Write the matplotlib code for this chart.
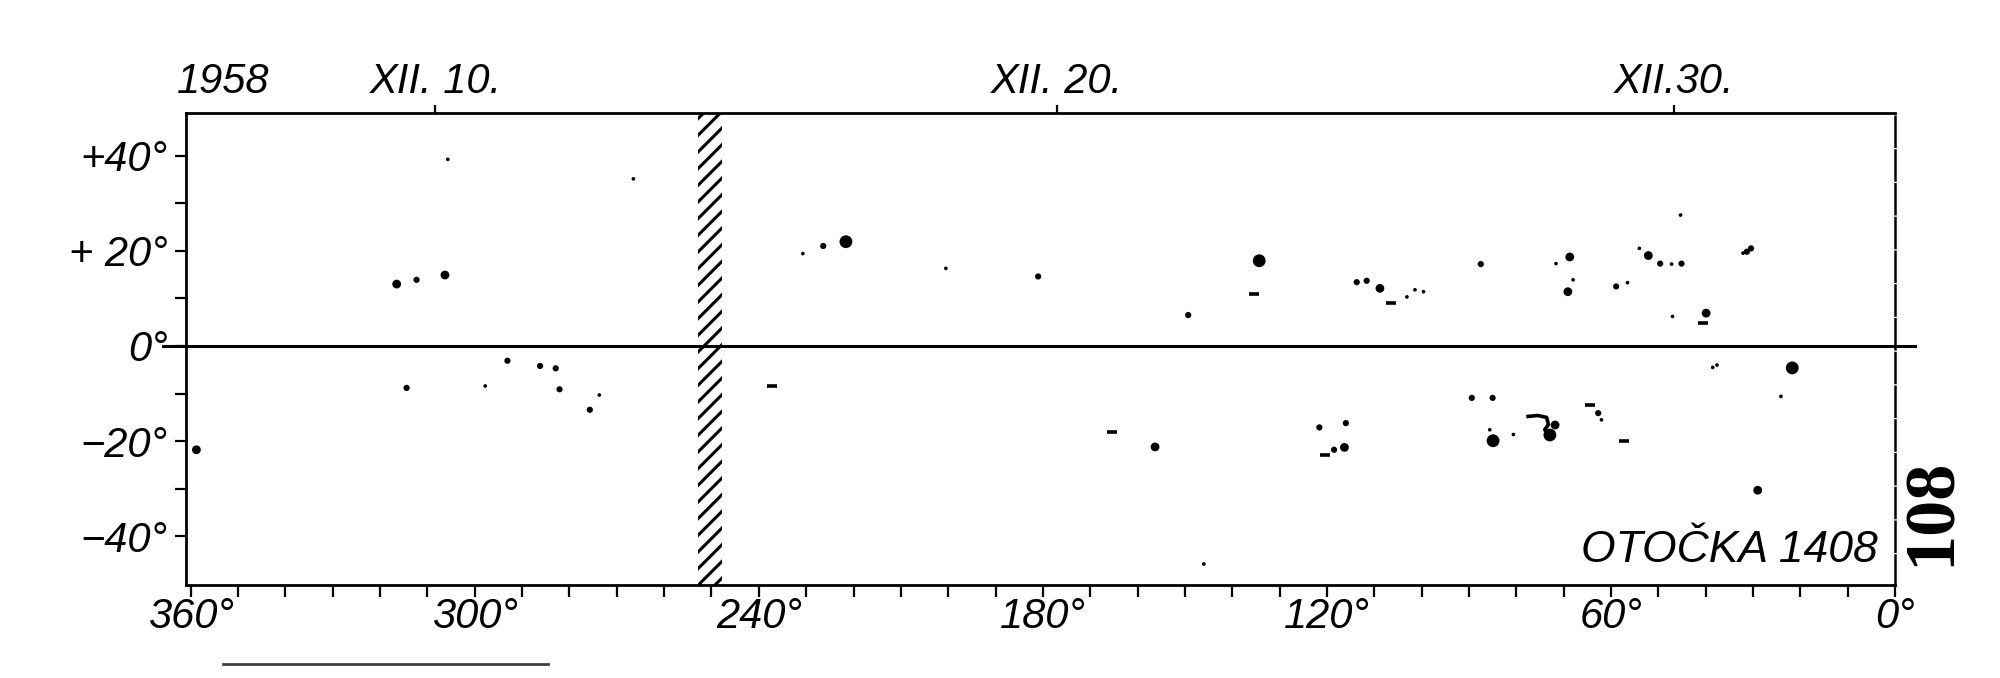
import matplotlib.pyplot as plt
from matplotlib.lines import Line2D

plt.rcParams['hatch.linewidth'] = 2.2

lab_font = ['Liberation Sans Narrow', 'Liberation Sans', 'DejaVu Sans']

# Data: Carrington longitude (deg), latitude (deg), size class 1..4
spot_lon = [305.7, 316.5, 312.3, 306.3, 314.4, 358.8,
            266.5, 293.1, 297.8, 286.2, 282.9, 282.1, 273.7, 275.7,
            230.7, 226.4, 221.6, 200.5, 181.0,
            149.3, 134.3, 113.7, 111.6, 108.8, 103.1, 101.4, 99.6,
            156.3, 146.0, 121.6, 116.0, 118.5, 116.3,
            87.5, 71.6, 68.7, 68.0, 69.1, 58.9, 56.5, 54.0, 52.1, 49.6,
            47.2, 45.1, 45.3, 47.0, 39.9, 32.1, 31.3, 30.4, 38.5, 37.6,
            89.4, 85.0, 85.6, 84.9, 80.6, 71.8, 72.9, 62.7, 62.0, 29.0,
            21.7, 24.1]
spot_lat = [39.2, 13.0, 13.9, 14.9, -8.8, -21.8,
            35.1, -3.1, -8.4, -4.2, -4.7, -9.1, -10.3, -13.4,
            19.4, 21.0, 21.9, 16.3, 14.6,
            6.5, 17.9, 13.4, 13.7, 12.1, 10.3, 11.8, 11.4,
            -21.2, -45.8, -17.1, -16.2, -21.8, -21.3,
            17.2, 17.3, 18.7, 13.9, 11.4, 12.5, 13.3, 20.5, 19.0, 17.3,
            17.2, 17.3, 27.5, 6.2, 6.9, 19.5, 19.8, 20.5, -4.5, -4.0,
            -10.9, -10.9, -17.6, -19.9, -18.6, -16.6, -18.7, -14.1, -15.5, -30.3,
            -4.6, -10.6]
spot_size = [1, 3, 2, 3, 2, 3,
             1, 2, 1, 2, 2, 2, 1, 2,
             1, 2, 4, 1, 2,
             2, 4, 2, 2, 3, 1, 1, 1,
             3, 1, 2, 2, 2, 3,
             2, 1, 3, 1, 3, 2, 1, 1, 3, 2,
             1, 2, 1, 1, 3, 1, 2, 2, 1, 1,
             2, 2, 1, 4, 1, 3, 4, 2, 1, 3,
             4, 1]

# elongated (dash-like) features
dash_lon = [237.3, 165.5, 135.5, 106.5, 120.4, 40.5, 64.4, 57.2]
dash_lat = [-8.5, -18.0, 10.9, 9.1, -22.9, 4.9, -12.4, -19.9]

# irregular group near 75 deg
trail_lon = [77.5, 75.5, 73.6, 73.2, 74.0, 73.0]
trail_lat = [-14.8, -14.6, -15.0, -16.5, -17.6, -18.7]

# gap in observations
gap_lon = [247.8, 252.9]

lon_ticks = [360, 300, 240, 180, 120, 60, 0]
lon_labels = ['360°', '300°', '240°', '180°', '120°', '60°', '0°']
lat_ticks = [40, 20, 0, -20, -40]
lat_labels = ['+40°', '+ 20°', '0°', '−20°', '−40°']

date_lon = [308.3, 177.1, 46.7]
date_labels = ['XII. 10.', 'XII. 20.', 'XII.30.']

size_map = {1: 7, 2: 20, 3: 40, 4: 85}

fig = plt.figure(figsize=(20, 6.78), dpi=100)
fig.patch.set_facecolor('white')
ax = fig.add_axes([0.093, 0.1372, 0.8545, 0.6966])

ax.set_xlim(361, 0)
ax.set_ylim(-50.2, 49)

ax.axvspan(gap_lon[0], gap_lon[1], facecolor='none', edgecolor='black', hatch='//', linewidth=0)
ax.axhline(0, xmin=-0.0135, xmax=1.0117, color='black', lw=2.2, clip_on=False)

ax.scatter(spot_lon, spot_lat, s=[size_map[k] for k in spot_size], color='black', linewidths=0)
ax.plot(dash_lon, dash_lat, ls='none', marker='_', ms=7, mew=2.6, color='black')
ax.plot(trail_lon, trail_lat, color='black', lw=2.6)

for side in ['left', 'top', 'bottom']:
    ax.spines[side].set_linewidth(2)
ax.spines['right'].set_linewidth(1.8)
ax.spines['right'].set_linestyle((0, (12, 1.5)))

ax.set_xticks(lon_ticks)
ax.set_xticklabels(lon_labels, family=lab_font, style='italic', fontsize=30)
ax.set_xticks(range(350, 0, -10), minor=True)
ax.set_yticks(lat_ticks)
ax.set_yticklabels(lat_labels, family=lab_font, style='italic', fontsize=30)
ax.set_yticks([30, 10, -10, -30], minor=True)
ax.tick_params(axis='x', which='both', direction='out', length=8.5, width=1.6, pad=0)
ax.tick_params(axis='y', which='both', direction='out', length=8, width=1.6, pad=5)

# date axis along the top
ax_top = ax.twiny()
ax_top.set_xlim(ax.get_xlim())
ax_top.set_xticks(date_lon)
ax_top.set_xticklabels(date_labels, family=lab_font, style='italic', fontsize=30)
ax_top.tick_params(axis='x', direction='out', length=6, width=1.6, pad=2)
for side in ax_top.spines:
    ax_top.spines[side].set_visible(False)

ax.annotate('1958', xy=(0.022, 1.0), xycoords='axes fraction', xytext=(0, 8),
            textcoords='offset points', ha='center', va='bottom',
            family=lab_font, style='italic', fontsize=30)
ax.text(0.99, 0.03, 'OTOČKA 1408', transform=ax.transAxes, ha='right', va='bottom',
        family=lab_font, style='italic', fontsize=32)

fig.text(0.966, 0.245, '108', rotation=90, ha='center', va='center',
         family=['Liberation Serif', 'DejaVu Serif'], weight='bold', fontsize=52)

# scan edge line below the chart
fig.add_artist(Line2D([0.1115, 0.274], [0.021, 0.021], color='0.25', lw=2))

plt.savefig('out.png', dpi=100, facecolor='white')
